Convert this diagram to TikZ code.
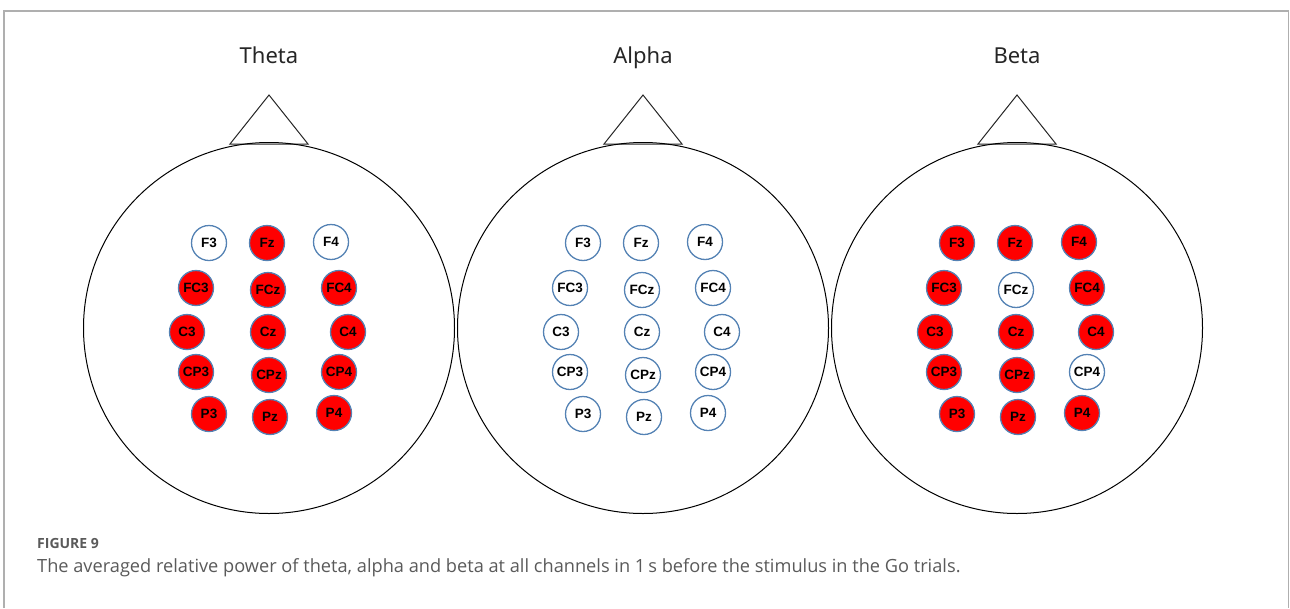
\documentclass[tikz,border=0pt]{standalone}
\usepackage{fontspec}
\setmainfont{Open Sans}
\newfontfamily\elecfont{Liberation Sans}
\newfontfamily\titlefont{Noto Sans}
\definecolor{elecBlue}{RGB}{84,130,180}
\definecolor{capGray}{RGB}{90,90,90}
\definecolor{frameGray}{RGB}{175,175,175}

\begin{document}
\begin{tikzpicture}
[x=1pt,y=-1pt,%
  headDecorate/.style={draw=black,line width=1pt},%
  noseDecorate/.style={draw=black!85,line width=1pt},%
  titleDecorate/.style={anchor=base,font=\titlefont\fontsize{22}{26}\selectfont,text=black!85},%
  elecDecorate/.style={shape=circle,minimum size=35pt,inner sep=0pt,draw=elecBlue,
    line width=1.3pt,font=\elecfont\bfseries\fontsize{13.5}{15}\selectfont},%
  elecOn/.style={fill=red},%
  elecOff/.style={fill=white},%
  th/.style={elecOn}, al/.style={elecOff}, be/.style={elecOn},%
  th-F3/.style={elecOff}, th-F4/.style={elecOff},%
  be-FCz/.style={elecOff}, be-CP4/.style={elecOff}]
\useasboundingbox (0,0) rectangle (1290,608);
%% frame
\draw[frameGray,line width=1.5pt] (4,608) -- (4,11) -- (1288.5,11) -- (1288.5,608);
%% heads, noses and electrodes
\foreach \hd/\cx/\title in {th/269/Theta, al/643/Alpha, be/1017/Beta}
{
  \node (\hd-title) at (\cx,63) [titleDecorate] {\title};
  \draw[noseDecorate] (\cx-39,144) -- (\cx,95) -- (\cx+39,144) -- cycle;
  \draw[headDecorate] (\cx,328) circle (185.5);
  \foreach \ename/\dx/\y in {
    F3/-60/243, Fz/-2/243, F4/62/242, FC3/-73/288, FCz/-1/290, FC4/70/288,
    C3/-82/332, Cz/-1/332, C4/79/332, CP3/-73/372, CPz/0/375, CP4/70/372,
    P3/-60/414, Pz/1/417, P4/65/413}
  {
    \node (\hd-\ename) at (\cx+\dx,\y) [elecDecorate,\hd,\hd-\ename/.try] {\ename};
  }
}
%% caption
\node (figlabel) [anchor=base west,inner sep=0pt,text=capGray,
  font=\bfseries\fontsize{14}{16}\selectfont] at (37,548) {FIGURE 9};
\node (caption) [anchor=base west,inner sep=0pt,text=capGray,
  font=\fontsize{18.2}{21}\selectfont] at (37,572)
  {The averaged relative power of theta, alpha and beta at all channels in 1\,s before the stimulus in the Go trials.};
\end{tikzpicture}
\end{document}
